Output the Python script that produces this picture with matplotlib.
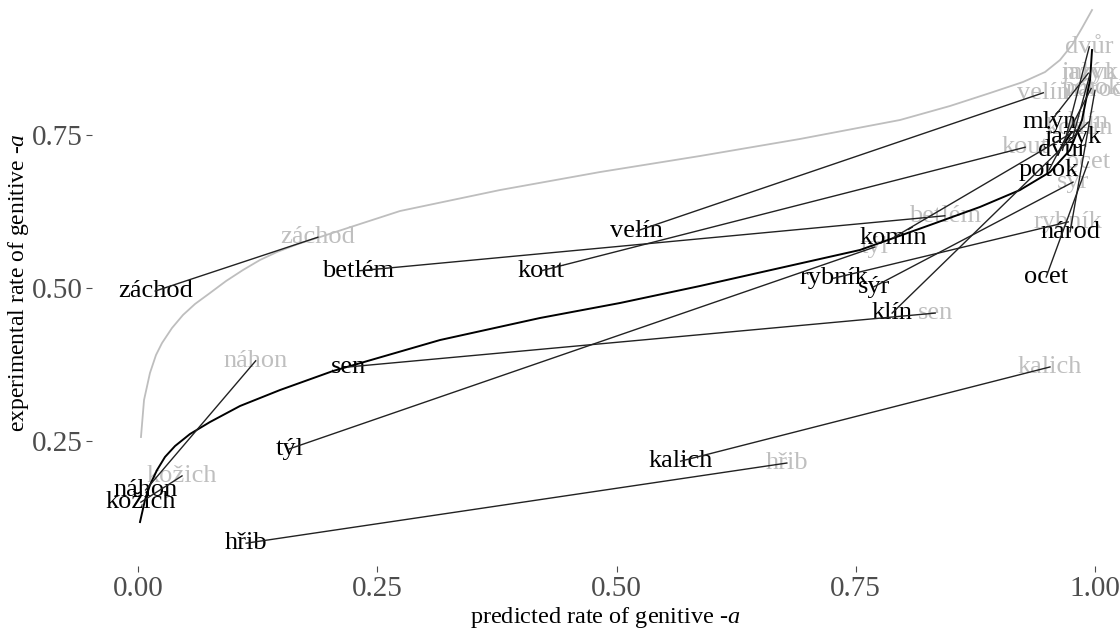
import matplotlib
matplotlib.use("Agg")
import matplotlib.pyplot as plt

plt.rcParams['font.family'] = ['Liberation Serif', 'DejaVu Serif']
plt.rcParams['mathtext.fontset'] = 'custom'
plt.rcParams['mathtext.rm'] = 'Liberation Serif'
plt.rcParams['mathtext.it'] = 'Liberation Serif:italic'

words = ["záchod", "betlém", "kout", "velín", "komín", "rybník", "sýr", "klín",
         "sen", "týl", "kalich", "hřib", "náhon", "kožich", "mlýn", "jazyk",
         "dvůr", "potok", "národ", "ocet"]

# black labels (one model)
black_x = [0.018, 0.230, 0.421, 0.521, 0.789, 0.727, 0.769, 0.788, 0.220, 0.158,
           0.567, 0.113, 0.008, 0.003, 0.953, 0.977, 0.966, 0.952, 0.974, 0.949]
black_y = [0.495, 0.528, 0.528, 0.593, 0.582, 0.516, 0.502, 0.459, 0.371, 0.237,
           0.217, 0.083, 0.170, 0.150, 0.771, 0.747, 0.725, 0.693, 0.592, 0.518]

# grey labels (other model)
grey_x = [0.188, 0.843, 0.927, 0.946, 0.984, 0.972, 0.977, 0.993, 0.833, 0.770,
          0.953, 0.678, 0.123, 0.046, 0.993, 0.995, 0.994, 0.996, 1.000, 0.993]
grey_y = [0.583, 0.618, 0.730, 0.819, 0.761, 0.608, 0.673, 0.771, 0.459, 0.567,
          0.371, 0.214, 0.381, 0.193, 0.851, 0.851, 0.894, 0.826, 0.823, 0.706]

# fitted curves
grey_curve_x = [0.0031, 0.0063, 0.0125, 0.0188, 0.0251, 0.0355, 0.0470, 0.0596,
                0.0752, 0.0920, 0.1097, 0.1275, 0.1452, 0.1672, 0.1902, 0.2320,
                0.2738, 0.3783, 0.4828, 0.5873, 0.6917, 0.7962, 0.8485, 0.8903,
                0.9248, 0.9478, 0.9634, 0.9760, 0.9864, 0.9969]
grey_curve_y = [0.2565, 0.3170, 0.3611, 0.3905, 0.4101, 0.4346, 0.4559, 0.4739,
                0.4918, 0.5114, 0.5294, 0.5458, 0.5588, 0.5719, 0.5833, 0.6046,
                0.6258, 0.6601, 0.6895, 0.7157, 0.7435, 0.7745, 0.7974, 0.8186,
                0.8366, 0.8529, 0.8725, 0.8971, 0.9248, 0.9542]

black_curve_x = [0.0021, 0.0073, 0.0125, 0.0199, 0.0282, 0.0387, 0.0543, 0.0752,
                 0.1066, 0.1484, 0.2038, 0.3156, 0.4201, 0.5037, 0.5873, 0.6708,
                 0.7544, 0.8276, 0.8798, 0.9216, 0.9530, 0.9739, 0.9864, 0.9948,
                 0.9969]
black_curve_y = [0.1176, 0.1536, 0.1781, 0.2026, 0.2239, 0.2418, 0.2614, 0.2810,
                 0.3072, 0.3333, 0.3644, 0.4150, 0.4510, 0.4755, 0.5033, 0.5327,
                 0.5621, 0.6029, 0.6324, 0.6601, 0.6895, 0.7255, 0.7745, 0.8399,
                 0.8889]

x_ticks = [0.0, 0.25, 0.5, 0.75, 1.0]
x_tick_labels = ["0.00", "0.25", "0.50", "0.75", "1.00"]
y_ticks = [0.25, 0.5, 0.75]
y_tick_labels = ["0.25", "0.50", "0.75"]

W, H = 1120, 630
fig = plt.figure(figsize=(W / 100, H / 100), dpi=100)
ax = fig.add_axes([92 / W, 1 - 566 / H, (1118 - 92) / W, 566 / H])
ax.set_xlim((92 - 138) / 957, (1118 - 138) / 957)
ax.set_ylim(0.5 - (566 - 288) / 612, 0.5 + 288 / 612)

for s in ax.spines.values():
    s.set_visible(False)
ax.set_facecolor('white')

ax.plot(grey_curve_x, grey_curve_y, color='#BEBEBE', lw=1.3, zorder=2,
        solid_joinstyle='round')
ax.plot(black_curve_x, black_curve_y, color='black', lw=1.4, zorder=4,
        solid_joinstyle='round')

for w, gx, gy in zip(words, grey_x, grey_y):
    ax.text(gx, gy, w, color='#BFBFBF', fontsize=19, ha='center', va='center', zorder=1)
for w, bx, by in zip(words, black_x, black_y):
    ax.text(bx, by, w, color='black', fontsize=19, ha='center', va='center', zorder=3)
for bx, by, gx, gy in zip(black_x, black_y, grey_x, grey_y):
    ax.plot([bx, gx], [by, gy], color='#222222', lw=1.0, zorder=4)

ax.set_xticks(x_ticks)
ax.set_xticklabels(x_tick_labels)
ax.set_yticks(y_ticks)
ax.set_yticklabels(y_tick_labels)
ax.tick_params(axis='both', colors='#4D4D4D', labelsize=21, length=4, width=0.8, pad=3)

ax.set_xlabel('predicted rate of genitive -$\\mathit{a}$', fontsize=17.5, labelpad=2)
ax.set_ylabel('experimental rate of genitive -$\\mathit{a}$', fontsize=17, labelpad=0)

fig.savefig('out.png', dpi=100)
